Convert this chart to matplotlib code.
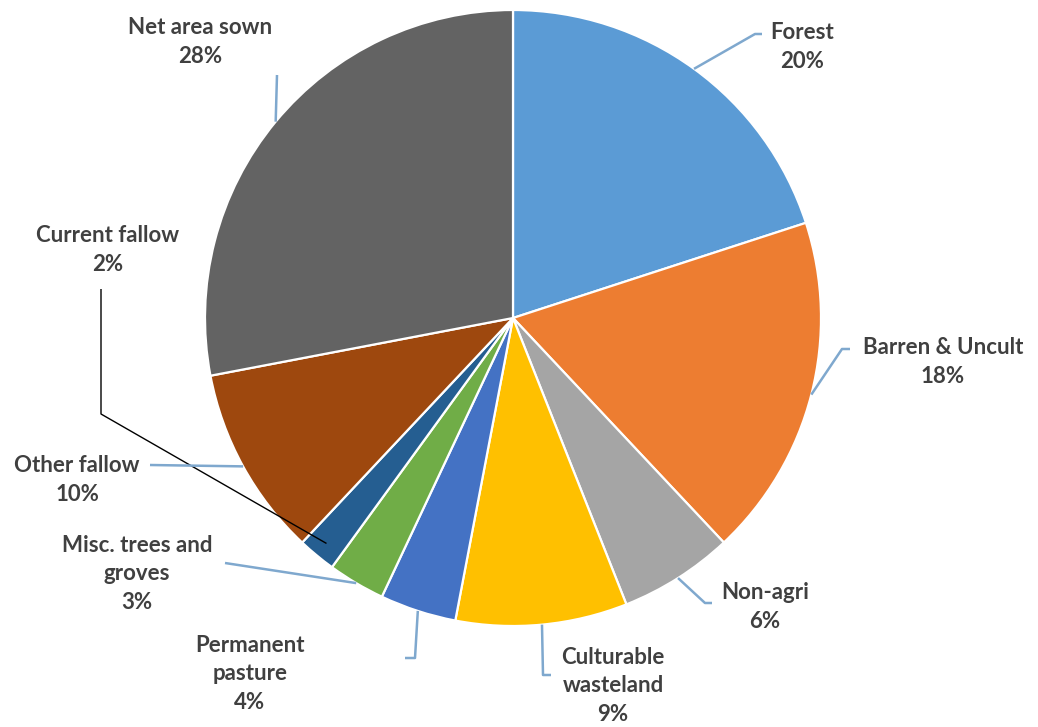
import numpy as np
import matplotlib
matplotlib.use("Agg")
import matplotlib.pyplot as plt

# Land-use shares (percent), clockwise from the top
categories = ["Forest", "Barren & Uncult", "Non-agri", "Culturable\nwasteland",
              "Permanent\npasture", "Misc. trees and\ngroves", "Current fallow",
              "Other fallow", "Net area sown"]
shares = [20, 18, 6, 9, 4, 3, 2, 10, 28]
colors = ["#5B9BD5", "#ED7D31", "#A5A5A5", "#FFC000", "#4472C4",
          "#70AD47", "#255E91", "#9E480E", "#636363"]

W, H = 1038, 727
fig = plt.figure(figsize=(W / 100, H / 100), dpi=100)
ax = fig.add_axes([0, 0, 1, 1])
ax.set_xlim(0, W)
ax.set_ylim(0, H)
ax.set_aspect("equal")
ax.axis("off")


def Y(py):
    return H - py


cx, cy, R = 513, Y(318), 308
wedges, _ = ax.pie(shares, colors=colors, startangle=90, counterclock=False,
                   center=(cx, cy), radius=R,
                   wedgeprops=dict(edgecolor="white", linewidth=1.6))
ax.set_xlim(0, W)
ax.set_ylim(0, H)

# Label layout: text centre (px), leader path (elbow points, px), end radius factor
layout = [
    ((802, 47), [(755, 34), (762, 34)], 1.0),
    ((943, 362), [(842, 349), (850, 349)], 1.0),
    ((765, 607), [(705, 603), (712, 603)], 1.0),
    ((613, 686), [(543, 675), (551, 675)], 1.0),
    ((250, 674), [(415, 658), (405, 658)], 1.0),
    ((137, 574), [(225, 563)], 1.0),
    ((108, 250), [(101, 414), (101, 289)], 0.95),
    ((77, 480), [(150, 465)], 1.0),
    ((200, 42), [(277, 75)], 1.0),
]

text_color = "#404040"
for w, cat, val, (tpos, path, rf) in zip(wedges, categories, shares, layout):
    mid = np.deg2rad((w.theta1 + w.theta2) / 2)
    sx = cx + R * rf * np.cos(mid)
    sy = cy + R * rf * np.sin(mid)
    xs = [sx] + [p[0] for p in path]
    ys = [sy] + [Y(p[1]) for p in path]
    lc = "black" if rf < 1 else "#7FA8CE"
    lw = 1.0 if rf < 1 else 1.8
    ax.plot(xs, ys, color=lc, lw=lw, solid_capstyle="butt", zorder=3)
    ax.text(tpos[0], Y(tpos[1]), f"{cat}\n{val}%", ha="center", va="center",
            fontsize=16, fontweight="bold", family="Lato", color=text_color,
            linespacing=1.45)

fig.savefig("out.png", dpi=100, facecolor="white")
